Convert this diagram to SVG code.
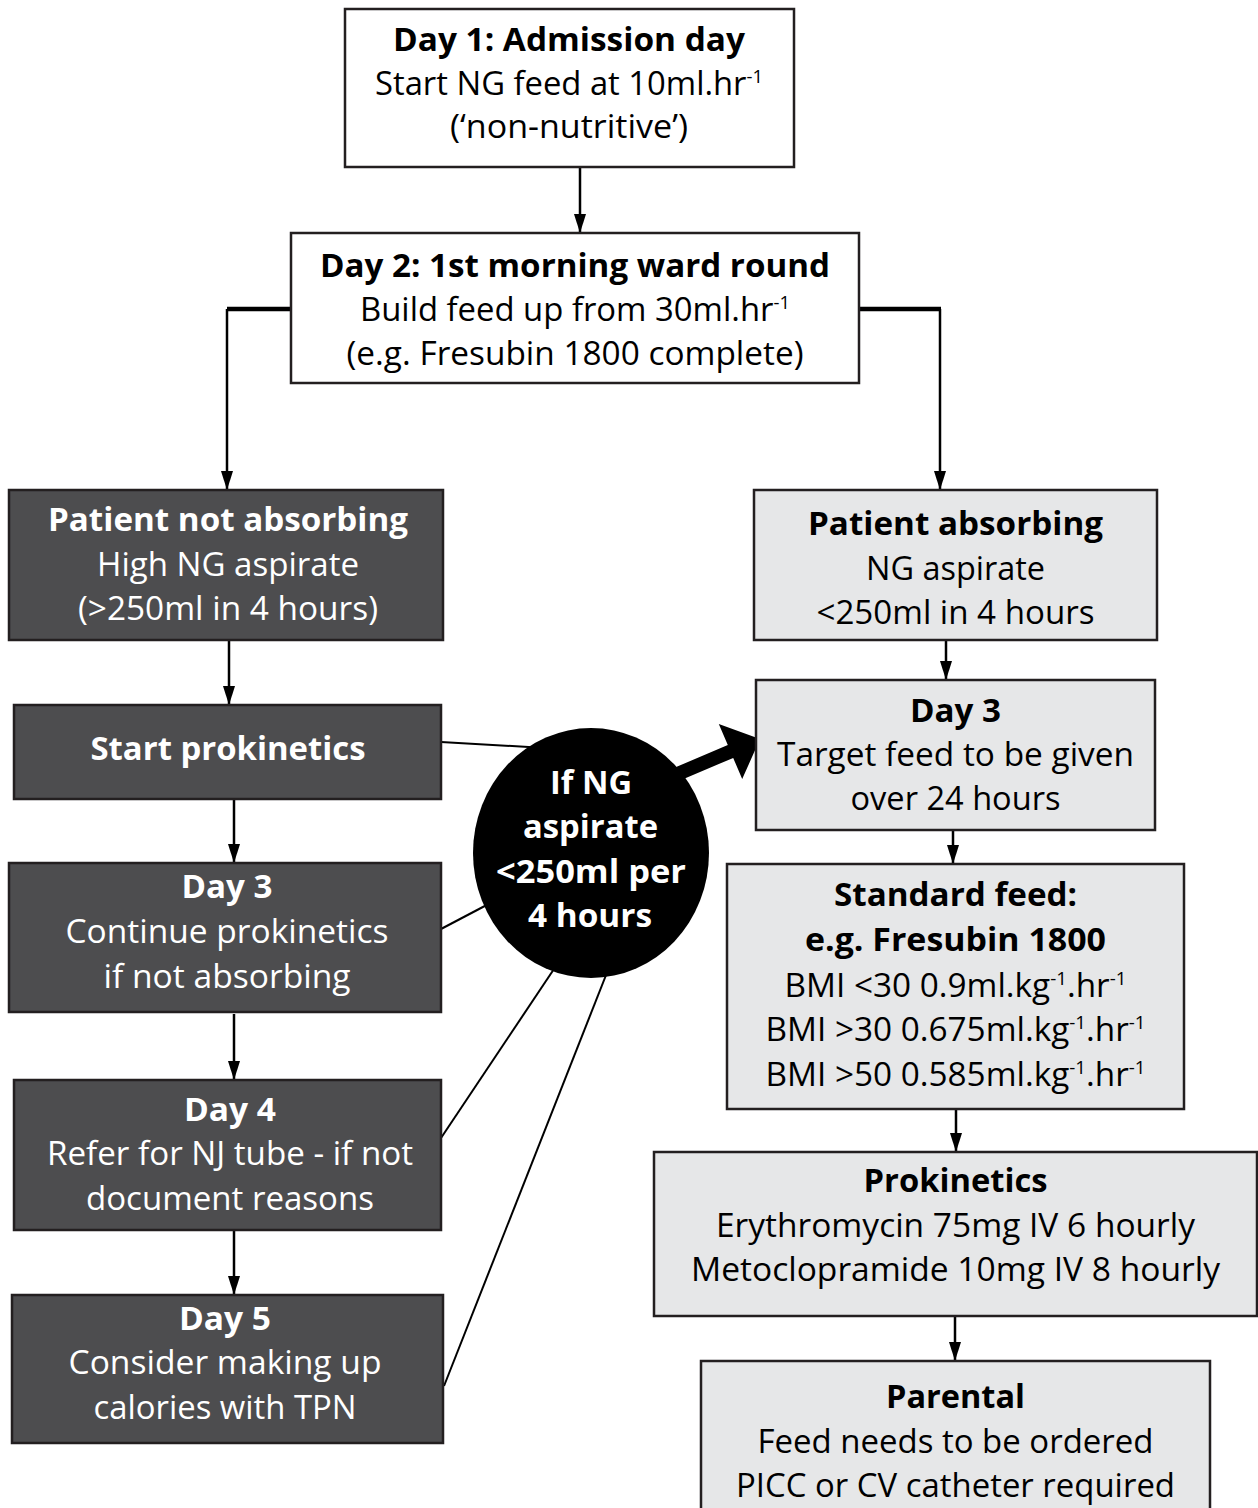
<svg xmlns="http://www.w3.org/2000/svg" width="1258" height="1508" viewBox="0 0 1258 1508">
<defs>
<marker id="ah" markerUnits="userSpaceOnUse" markerWidth="19" markerHeight="12" refX="19" refY="6" orient="auto">
<path d="M0,0 L19,6 L0,12 z" fill="#000"/>
</marker>
<style>
.box{stroke:#231f20;stroke-width:2.5}
.w{fill:#fff}
.d{fill:#4d4d4f}
.l{fill:#e6e7e8}
text{font-family:"Open Sans","Noto Sans","DejaVu Sans",sans-serif;font-size:32px;text-anchor:middle}
.b{font-weight:700}
.tw{fill:#fff}
.tk{fill:#000}
.sup{font-size:18px}
.c{fill:none;stroke:#000;stroke-width:2.5}
.ck{fill:none;stroke:#000;stroke-width:4.5}
.cl{fill:none;stroke:#000;stroke-width:2}
</style>
</defs>
<rect width="1258" height="1508" fill="#fff"/>

<g id="connectors">
<line class="c" x1="580" y1="168" x2="580" y2="233" marker-end="url(#ah)"/>
<polyline class="ck" points="291,309 227,309"/>
<line class="c" x1="227" y1="309" x2="227" y2="490" marker-end="url(#ah)"/>
<polyline class="ck" points="859,309 941,309"/>
<line class="c" x1="940" y1="309" x2="940" y2="490" marker-end="url(#ah)"/>
<line class="c" x1="229" y1="640" x2="229" y2="705" marker-end="url(#ah)"/>
<line class="c" x1="234" y1="799" x2="234" y2="863" marker-end="url(#ah)"/>
<line class="c" x1="234" y1="1014" x2="234" y2="1080" marker-end="url(#ah)"/>
<line class="c" x1="234" y1="1230" x2="234" y2="1295" marker-end="url(#ah)"/>
<line class="c" x1="946" y1="640" x2="946" y2="680" marker-end="url(#ah)"/>
<line class="c" x1="953" y1="830" x2="953" y2="864" marker-end="url(#ah)"/>
<line class="c" x1="956" y1="1109" x2="956" y2="1152" marker-end="url(#ah)"/>
<line class="c" x1="955" y1="1316" x2="955" y2="1361" marker-end="url(#ah)"/>
<line class="cl" x1="441" y1="742" x2="545" y2="748"/>
<line class="cl" x1="441" y1="929" x2="500" y2="898"/>
<line class="cl" x1="441" y1="1138" x2="560" y2="960"/>
<line class="cl" x1="444" y1="1386" x2="610" y2="965"/>
<polygon fill="#000" points="641.2,796.9 733.2,757.9 742.2,779.1 760,739 718.8,723.9 727.8,745.1 635.8,784.1"/>
</g>

<g id="day1">
<rect class="box w" x="345" y="9" width="449" height="158"/>
<text class="b tk" x="569" y="51" textLength="352" lengthAdjust="spacingAndGlyphs">Day 1: Admission day</text>
<text class="tk" x="569" y="95" textLength="388" lengthAdjust="spacingAndGlyphs">Start NG feed at 10ml.hr<tspan class="sup" dy="-12">-1</tspan></text>
<text class="tk" x="569" y="138" textLength="238" lengthAdjust="spacingAndGlyphs">(‘non-nutritive’)</text>
</g>

<g id="day2">
<rect class="box w" x="291" y="233" width="568" height="150"/>
<text class="b tk" x="575" y="277" textLength="510" lengthAdjust="spacingAndGlyphs">Day 2: 1st morning ward round</text>
<text class="tk" x="575" y="321" textLength="430" lengthAdjust="spacingAndGlyphs">Build feed up from 30ml.hr<tspan class="sup" dy="-12">-1</tspan></text>
<text class="tk" x="575" y="365" textLength="457" lengthAdjust="spacingAndGlyphs">(e.g. Fresubin 1800 complete)</text>
</g>

<g id="not-absorbing">
<rect class="box d" x="9" y="490" width="434" height="150"/>
<text class="b tw" x="228" y="531" textLength="360" lengthAdjust="spacingAndGlyphs">Patient not absorbing</text>
<text class="tw" x="228" y="576" textLength="262" lengthAdjust="spacingAndGlyphs">High NG aspirate</text>
<text class="tw" x="228" y="620" textLength="300" lengthAdjust="spacingAndGlyphs">(&gt;250ml in 4 hours)</text>
</g>

<g id="start-prokinetics">
<rect class="box d" x="14" y="705" width="427" height="94"/>
<text class="b tw" x="228" y="760" textLength="275" lengthAdjust="spacingAndGlyphs">Start prokinetics</text>
</g>

<g id="day3-left">
<rect class="box d" x="9" y="863" width="432" height="149"/>
<text class="b tw" x="227" y="898" textLength="91" lengthAdjust="spacingAndGlyphs">Day 3</text>
<text class="tw" x="227" y="943" textLength="323" lengthAdjust="spacingAndGlyphs">Continue prokinetics</text>
<text class="tw" x="227" y="988" textLength="247" lengthAdjust="spacingAndGlyphs">if not absorbing</text>
</g>

<g id="day4">
<rect class="box d" x="14" y="1080" width="427" height="150"/>
<text class="b tw" x="230" y="1121" textLength="92" lengthAdjust="spacingAndGlyphs">Day 4</text>
<text class="tw" x="230" y="1165" textLength="366" lengthAdjust="spacingAndGlyphs">Refer for NJ tube - if not</text>
<text class="tw" x="230" y="1210" textLength="288" lengthAdjust="spacingAndGlyphs">document reasons</text>
</g>

<g id="day5">
<rect class="box d" x="12" y="1295" width="431" height="148"/>
<text class="b tw" x="225" y="1330" textLength="92" lengthAdjust="spacingAndGlyphs">Day 5</text>
<text class="tw" x="225" y="1374" textLength="313" lengthAdjust="spacingAndGlyphs">Consider making up</text>
<text class="tw" x="225" y="1419" textLength="263" lengthAdjust="spacingAndGlyphs">calories with TPN</text>
</g>

<g id="absorbing">
<rect class="box l" x="754" y="490" width="403" height="150"/>
<text class="b tk" x="955.5" y="535" textLength="295" lengthAdjust="spacingAndGlyphs">Patient absorbing</text>
<text class="tk" x="955.5" y="580" textLength="179" lengthAdjust="spacingAndGlyphs">NG aspirate</text>
<text class="tk" x="955.5" y="624" textLength="278" lengthAdjust="spacingAndGlyphs">&lt;250ml in 4 hours</text>
</g>

<g id="day3-right">
<rect class="box l" x="756" y="680" width="399" height="150"/>
<text class="b tk" x="955.5" y="722" textLength="91" lengthAdjust="spacingAndGlyphs">Day 3</text>
<text class="tk" x="955.5" y="766" textLength="357" lengthAdjust="spacingAndGlyphs">Target feed to be given</text>
<text class="tk" x="955.5" y="810" textLength="210" lengthAdjust="spacingAndGlyphs">over 24 hours</text>
</g>

<g id="standard-feed">
<rect class="box l" x="727" y="864" width="457" height="245"/>
<text class="b tk" x="955.5" y="906" textLength="243" lengthAdjust="spacingAndGlyphs">Standard feed:</text>
<text class="b tk" x="955.5" y="951" textLength="301" lengthAdjust="spacingAndGlyphs">e.g. Fresubin 1800</text>
<text class="tk" x="955.5" y="997" textLength="342" lengthAdjust="spacingAndGlyphs">BMI &lt;30 0.9ml.kg<tspan class="sup" dy="-12">-1</tspan><tspan dy="12">.hr</tspan><tspan class="sup" dy="-12">-1</tspan></text>
<text class="tk" x="955.5" y="1041" textLength="380" lengthAdjust="spacingAndGlyphs">BMI &gt;30 0.675ml.kg<tspan class="sup" dy="-12">-1</tspan><tspan dy="12">.hr</tspan><tspan class="sup" dy="-12">-1</tspan></text>
<text class="tk" x="955.5" y="1086" textLength="380" lengthAdjust="spacingAndGlyphs">BMI &gt;50 0.585ml.kg<tspan class="sup" dy="-12">-1</tspan><tspan dy="12">.hr</tspan><tspan class="sup" dy="-12">-1</tspan></text>
</g>

<g id="prokinetics">
<rect class="box l" x="654" y="1152" width="603" height="164"/>
<text class="b tk" x="955.5" y="1192" textLength="184" lengthAdjust="spacingAndGlyphs">Prokinetics</text>
<text class="tk" x="955.5" y="1237" textLength="479" lengthAdjust="spacingAndGlyphs">Erythromycin 75mg IV 6 hourly</text>
<text class="tk" x="955.5" y="1281" textLength="529" lengthAdjust="spacingAndGlyphs">Metoclopramide 10mg IV 8 hourly</text>
</g>

<g id="parental">
<rect class="box l" x="701" y="1361" width="509" height="160"/>
<text class="b tk" x="955.5" y="1408" textLength="139" lengthAdjust="spacingAndGlyphs">Parental</text>
<text class="tk" x="955.5" y="1453" textLength="396" lengthAdjust="spacingAndGlyphs">Feed needs to be ordered</text>
<text class="tk" x="955.5" y="1497" textLength="439" lengthAdjust="spacingAndGlyphs">PICC or CV catheter required</text>
</g>

<g id="decision">
<ellipse cx="591" cy="853" rx="118" ry="125" fill="#000"/>
<text class="b tw" x="591" y="794" textLength="82" lengthAdjust="spacingAndGlyphs">If NG</text>
<text class="b tw" x="590.5" y="838" textLength="135" lengthAdjust="spacingAndGlyphs">aspirate</text>
<text class="b tw" x="591" y="883" textLength="190" lengthAdjust="spacingAndGlyphs">&lt;250ml per</text>
<text class="b tw" x="590" y="927" textLength="124" lengthAdjust="spacingAndGlyphs">4 hours</text>
</g>
</svg>
